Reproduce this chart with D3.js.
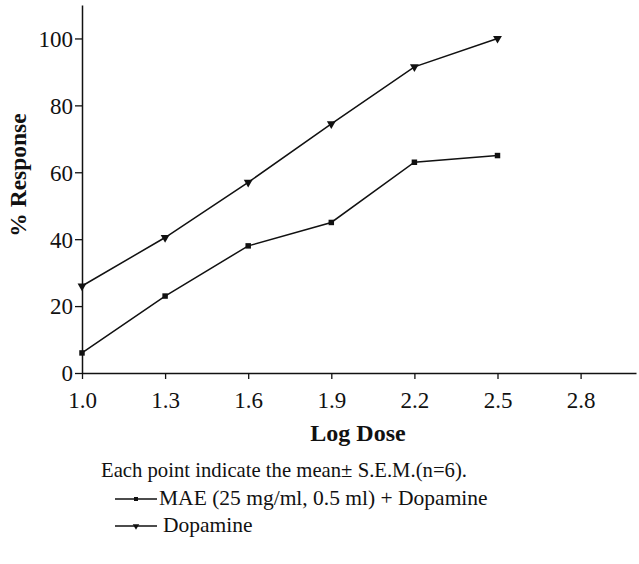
<!DOCTYPE html>
<html><head><meta charset="utf-8">
<script src="https://cdn.jsdelivr.net/npm/d3@7"></script>
<style>body{margin:0;background:#fff}svg{display:block}text{font-family:"Liberation Serif","Times New Roman",serif;fill:#111}</style>
</head><body>
<svg id="c" width="639" height="564"></svg>
<script>
const logDose = [1.0, 1.3, 1.6, 1.9, 2.2, 2.5];
const maeDopamine = [6, 23, 38, 45, 63, 65];
const dopamine = [26, 40.5, 57, 74.5, 91.5, 100];
const xTicks = [1.0, 1.3, 1.6, 1.9, 2.2, 2.5, 2.8];
const yTicks = [0, 20, 40, 60, 80, 100];
const seriesNames = ["MAE (25 mg/ml, 0.5 ml) + Dopamine", "Dopamine"];

const svg = d3.select("#c");
const x = d3.scaleLinear().domain([1.0, 3.0]).range([82, 636]);
const y = d3.scaleLinear().domain([0, 110]).range([373, 5]);

const xAxis = svg.append("g").attr("transform", "translate(0,373)")
  .call(d3.axisBottom(x).tickValues(xTicks).tickFormat(d3.format(".1f")).tickSize(6).tickSizeOuter(0));
const yAxis = svg.append("g").attr("transform", "translate(82,0)")
  .call(d3.axisLeft(y).tickValues(yTicks).tickSize(7).tickSizeOuter(0));
[xAxis, yAxis].forEach(a => {
  a.select(".domain").attr("stroke", "#111").attr("stroke-width", 1.5);
  a.selectAll(".tick line").attr("stroke", "#111").attr("stroke-width", 1.3);
  a.selectAll("text").attr("font-size", 23).attr("fill", "#111");
});
xAxis.selectAll("text").attr("y", 0).attr("dy", 0).attr("transform", "translate(0,35)");
yAxis.selectAll("text").attr("x", -9).attr("dy", "0.34em");

svg.append("text").attr("x", 358).attr("y", 441).attr("text-anchor", "middle")
  .attr("font-size", 24).attr("font-weight", "bold").text("Log Dose");
svg.append("text").attr("transform", "translate(26,175) rotate(-90)").attr("text-anchor", "middle")
  .attr("font-size", 23.5).attr("font-weight", "bold").text("% Response");

const line = d3.line().x((d, i) => x(logDose[i])).y(d => y(d));
const sq = d3.symbol().type(d3.symbolSquare).size(30);
const tri = d3.symbol().type(d3.symbolTriangle).size(34);

function drawSeries(vals, sym) {
  svg.append("path").datum(vals).attr("d", line).attr("fill", "none").attr("stroke", "#111").attr("stroke-width", 1.5);
  svg.selectAll(null).data(vals).enter().append("path").attr("d", sym)
    .attr("transform", (d, i) => `translate(${x(logDose[i])},${y(d)})` + (sym === tri ? " rotate(180)" : ""))
    .attr("fill", "#111");
}
drawSeries(maeDopamine, sq);
drawSeries(dopamine, tri);

svg.append("text").attr("x", 101).attr("y", 477).attr("font-size", 20.7)
  .text("Each point indicate the mean\u00b1 S.E.M.(n=6).");

const legY = [499, 526];
const legSym = [d3.symbol().type(d3.symbolSquare).size(16), d3.symbol().type(d3.symbolTriangle).size(18)];
seriesNames.forEach((name, i) => {
  svg.append("line").attr("x1", 115).attr("x2", 157).attr("y1", legY[i]).attr("y2", legY[i]).attr("stroke", "#111").attr("stroke-width", 1.3);
  svg.append("path").attr("d", legSym[i]).attr("fill", "#111")
    .attr("transform", `translate(136,${legY[i]})` + (i === 1 ? " rotate(180)" : ""));
  svg.append("text").attr("x", i === 0 ? 159 : 163).attr("y", legY[i] + 6).attr("font-size", 21.5).text(name);
});
</script>
</body></html>
